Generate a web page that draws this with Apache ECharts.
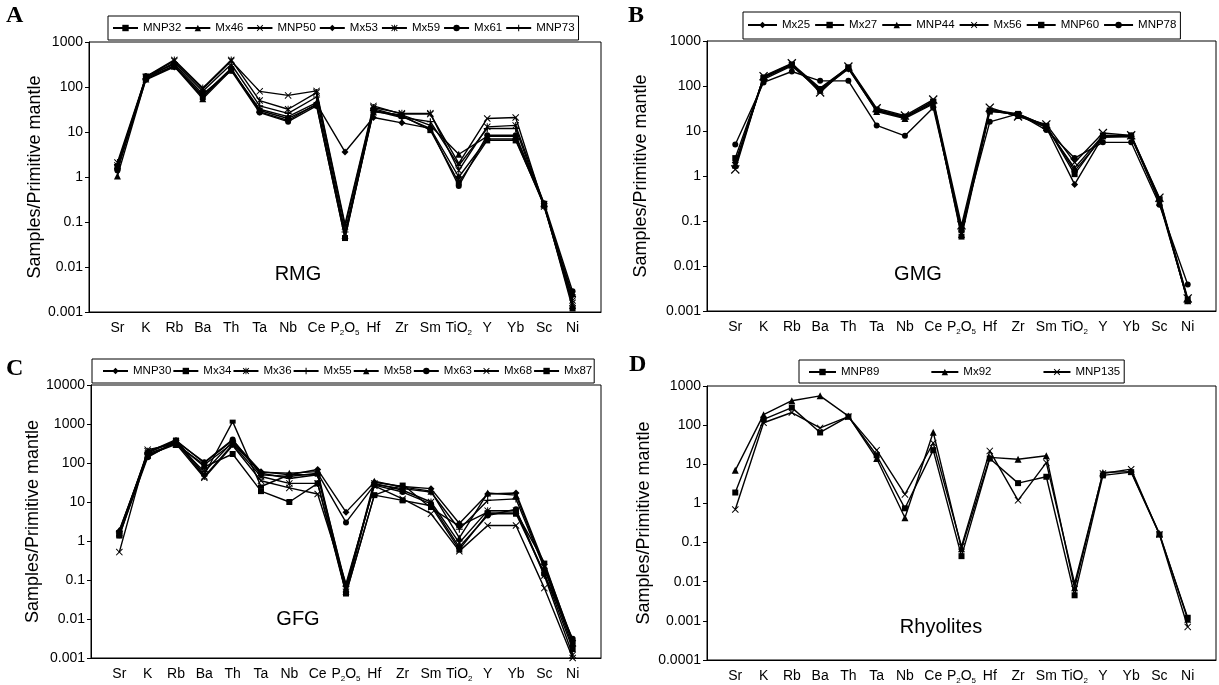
<!DOCTYPE html>
<html>
<head>
<meta charset="UTF-8">
<title>Primitive mantle normalized spider diagrams</title>
<script src="https://cdn.jsdelivr.net/npm/echarts@6/dist/echarts.min.js"></script>
<style>
  html, body { margin: 0; padding: 0; background: #fff; }
  #main { width: 1219px; height: 685px; }
</style>
</head>
<body>
<div id="main"></div>
<script>
// element order on the x axis
var categories = ['Sr', 'K', 'Rb', 'Ba', 'Th', 'Ta', 'Nb', 'Ce', 'P2O5', 'Hf', 'Zr', 'Sm', 'TiO2', 'Y', 'Yb', 'Sc', 'Ni'];

// panel A - RMG
var MNP32 = [1.6, 160, 300, 60, 250, 30, 20, 40, 0.044, 30, 23, 11, 0.75, 6.5, 6.5, 0.25, 0.0012];
var Mx46  = [1.05, 150, 290, 55, 240, 32, 22, 45, 0.05, 28, 24, 14, 3.2, 8, 8, 0.24, 0.0014];
var MNP50 = [1.8, 165, 380, 90, 380, 80, 65, 82, 0.09, 38, 25, 25, 2.0, 20, 21, 0.22, 0.0016];
var Mx53  = [1.5, 145, 280, 65, 260, 28, 18, 42, 3.6, 21, 16, 12, 1.0, 7, 7, 0.23, 0.0024];
var Mx59  = [2.1, 170, 400, 95, 400, 50, 32, 75, 0.08, 35, 26, 26, 1.4, 13, 14, 0.25, 0.0018];
var Mx61  = [1.4, 175, 320, 70, 230, 27, 17, 38, 0.045, 33, 22, 12, 0.63, 8.5, 8.5, 0.26, 0.0029];
var MNP73 = [1.9, 155, 350, 80, 320, 38, 26, 60, 0.06, 30, 21, 17, 1.8, 12, 12, 0.22, 0.0022];

// panel B - GMG
var Mx25  = [2.0, 140, 280, 80, 240, 28, 20, 42, 0.06, 28, 23, 12, 0.65, 7.5, 7.5, 0.28, 0.0017];
var Mx27  = [2.5, 150, 300, 85, 260, 30, 21, 45, 0.045, 27, 24, 13, 1.1, 8, 8, 0.3, 0.0018];
var MNP44 = [1.8, 155, 290, 80, 250, 27, 19, 40, 0.05, 30, 22, 12, 1.5, 8, 7.8, 0.26, 0.0017];
var Mx56  = [1.4, 165, 320, 72, 270, 32, 22, 50, 0.08, 33, 21, 14, 2.0, 9, 8, 0.33, 0.0019];
var MNP60 = [1.6, 160, 310, 90, 260, 29, 20, 47, 0.06, 30, 24, 13, 1.3, 7.2, 7.5, 0.32, 0.0016];
var MNP78 = [5.0, 120, 210, 130, 130, 13.3, 7.8, 33, 0.07, 16, 24, 10.5, 2.5, 5.6, 5.6, 0.23, 0.0039];

// panel C - GFG
var MNP30 = [1.8, 180, 380, 100, 380, 60, 50, 68, 5.5, 32, 25, 22, 2.8, 16, 17, 0.25, 0.0028];
var Mx34  = [1.6, 150, 330, 80, 170, 19, 10, 30, 0.045, 15, 11, 8, 0.6, 5, 5, 0.15, 0.0017];
var Mx36  = [1.5, 200, 350, 45, 300, 45, 30, 30, 0.05, 30, 20, 10, 0.9, 6, 6, 0.13, 0.0012];
var Mx55  = [1.7, 170, 320, 60, 350, 55, 40, 50, 0.07, 28, 22, 18, 2.0, 11, 12, 0.2, 0.002];
var Mx58  = [1.9, 160, 300, 90, 320, 58, 55, 60, 0.06, 34, 24, 19, 1.2, 17, 15, 0.22, 0.0025];
var Mx63  = [1.4, 140, 360, 105, 400, 50, 45, 55, 3.0, 27, 18, 9, 0.7, 4.5, 6.5, 0.14, 0.0031];
var Mx68  = [0.52, 220, 310, 42, 280, 35, 23, 16, 0.08, 26, 12, 5, 0.55, 2.5, 2.5, 0.062, 0.001];
var Mx87  = [1.3, 190, 400, 50, 1150, 25, 50, 50, 0.045, 15, 28, 7, 2.4, 5.5, 5.5, 0.28, 0.0025];

// panel D - Rhyolites
var MNP89  = [1.9, 140, 280, 65, 165, 17, 0.75, 23, 0.045, 14, 3.3, 4.8, 0.0045, 5.2, 6.3, 0.16, 0.0012];
var Mx92   = [7.0, 185, 420, 560, 170, 14, 0.43, 66, 0.07, 15, 13.5, 16.5, 0.007, 6.2, 6.5, 0.17, 0.0011];
var MNP135 = [0.7, 115, 210, 85, 165, 23, 1.7, 35, 0.08, 22, 1.2, 11, 0.009, 5.8, 7.5, 0.16, 0.0007];

var FONT = 'Liberation Sans, Arial, sans-serif';
var X_PATH = 'path://M1,0 L5,4 L9,0 L10,1 L6,5 L10,9 L9,10 L5,6 L1,10 L0,9 L4,5 L0,1 Z';
var PLUS_PATH = 'path://M4.2,0 H5.8 V4.2 H10 V5.8 H5.8 V10 H4.2 V5.8 H0 V4.2 H4.2 Z';
var STAR_PATH = 'path://M1,0 L5,4 L9,0 L10,1 L6,5 L10,9 L9,10 L5,6 L1,10 L0,9 L4,5 L0,1 Z M4.3,0 H5.7 V10 H4.3 Z';

function tickLabel(v) {
  var i = Math.round(v);
  if (i < 1 || i > categories.length) return '';
  var c = categories[i - 1];
  if (c === 'P2O5') return '{n|P}{s|2}{n|O}{s|5}';
  if (c === 'TiO2') return '{n|TiO}{s|2}';
  return '{n|' + c + '}';
}

function logLabel(v) {
  return String(parseFloat(v.toPrecision(6)));
}

function mk(name, values, symbol, size, gi) {
  return {
    name: name,
    type: 'line',
    xAxisIndex: gi,
    yAxisIndex: gi,
    data: values.map(function (v, i) { return [i + 1, v]; }),
    symbol: symbol,
    symbolSize: size,
    showSymbol: true,
    lineStyle: { color: '#000', width: 1.4 },
    itemStyle: { color: '#000' },
    emphasis: { disabled: true },
    animation: false
  };
}

var grids = [
  { left: 89, top: 42, width: 512, height: 270 },
  { left: 707, top: 41, width: 511, height: 270 },
  { left: 91, top: 385, width: 510, height: 273 },
  { left: 707, top: 386, width: 511, height: 275 }
];
var yRange = [[0.001, 1000], [0.001, 1000], [0.001, 10000], [0.0001, 1000]];
var nameGaps = [44, 57, 47, 54];

var option = {
  backgroundColor: '#fff',
  animation: false,
  grid: grids.map(function (g) {
    return Object.assign({ show: true, borderColor: '#000', borderWidth: 1, backgroundColor: 'transparent', containLabel: false }, g);
  }),
  xAxis: grids.map(function (g, i) {
    return {
      type: 'value', gridIndex: i, min: 0, max: 18, interval: 1,
      axisLine: { show: true, lineStyle: { color: '#000', width: 1 } },
      axisTick: { show: false },
      splitLine: { show: false },
      axisLabel: {
        formatter: tickLabel, margin: 7, color: '#000',
        rich: {
          n: { fontSize: 14, fontFamily: FONT, color: '#000', lineHeight: 18 },
          s: { fontSize: 8, fontFamily: FONT, color: '#000', lineHeight: 8, verticalAlign: 'bottom' }
        }
      }
    };
  }),
  yAxis: grids.map(function (g, i) {
    return {
      type: 'log', logBase: 10, gridIndex: i, min: yRange[i][0], max: yRange[i][1],
      name: 'Samples/Primitive mantle', nameLocation: 'middle', nameGap: nameGaps[i], nameRotate: 90,
      nameTextStyle: { fontSize: 18, fontFamily: FONT, color: '#000' },
      axisLine: { show: true, lineStyle: { color: '#000', width: 1 } },
      axisTick: { show: true, inside: false, length: 4, lineStyle: { color: '#000' } },
      minorTick: { show: false },
      splitLine: { show: false },
      axisLabel: { formatter: logLabel, fontSize: 14, fontFamily: FONT, color: '#000', margin: 6 }
    };
  }),
  legend: [
    { left: 108, top: 16, padding: [6, 4, 6, 4], itemGap: 3, itemWidth: 25, itemHeight: 8,
      data: ['MNP32', 'Mx46', 'MNP50', 'Mx53', 'Mx59', 'Mx61', 'MNP73'] },
    { left: 743, top: 12, padding: [7, 4, 8, 4], itemGap: 4, itemWidth: 29, itemHeight: 8,
      data: ['Mx25', 'Mx27', 'MNP44', 'Mx56', 'MNP60', 'MNP78'] },
    { left: 92, top: 359, padding: [6, 2, 6, 10], itemGap: 1, itemWidth: 25, itemHeight: 8,
      data: ['MNP30', 'Mx34', 'Mx36', 'Mx55', 'Mx58', 'Mx63', 'Mx68', 'Mx87'] },
    { left: 799, top: 360, padding: [6, 4, 5, 9], itemGap: 51, itemWidth: 27, itemHeight: 8,
      data: ['MNP89', 'Mx92', 'MNP135'] }
  ].map(function (l) {
    return Object.assign({
      orient: 'horizontal', borderColor: '#000', borderWidth: 1, backgroundColor: '#fff',
      selectedMode: false, itemStyle: { color: '#000' },
      textStyle: { fontSize: 11.5, fontFamily: FONT, color: '#000' }
    }, l);
  }),
  graphic: [
    { type: 'text', left: 6, top: 4, style: { text: 'A', font: 'bold 24px "Liberation Serif", "Times New Roman", serif', fill: '#000' } },
    { type: 'text', left: 628, top: 4, style: { text: 'B', font: 'bold 24px "Liberation Serif", "Times New Roman", serif', fill: '#000' } },
    { type: 'text', left: 6, top: 357, style: { text: 'C', font: 'bold 24px "Liberation Serif", "Times New Roman", serif', fill: '#000' } },
    { type: 'text', left: 629, top: 353, style: { text: 'D', font: 'bold 24px "Liberation Serif", "Times New Roman", serif', fill: '#000' } },
    { type: 'text', x: 298, y: 274, style: { text: 'RMG', font: '20px ' + FONT, fill: '#000', textAlign: 'center', textVerticalAlign: 'middle' } },
    { type: 'text', x: 918, y: 274, style: { text: 'GMG', font: '20px ' + FONT, fill: '#000', textAlign: 'center', textVerticalAlign: 'middle' } },
    { type: 'text', x: 298, y: 619, style: { text: 'GFG', font: '20px ' + FONT, fill: '#000', textAlign: 'center', textVerticalAlign: 'middle' } },
    { type: 'text', x: 941, y: 627, style: { text: 'Rhyolites', font: '20px ' + FONT, fill: '#000', textAlign: 'center', textVerticalAlign: 'middle' } }
  ],
  series: [
    mk('MNP32', MNP32, 'rect', 6, 0),
    mk('Mx46', Mx46, 'triangle', 7, 0),
    mk('MNP50', MNP50, X_PATH, 7, 0),
    mk('Mx53', Mx53, 'diamond', 7, 0),
    mk('Mx59', Mx59, STAR_PATH, 7, 0),
    mk('Mx61', Mx61, 'circle', 6, 0),
    mk('MNP73', MNP73, PLUS_PATH, 7, 0),

    mk('Mx25', Mx25, 'diamond', 7, 1),
    mk('Mx27', Mx27, 'rect', 6, 1),
    mk('MNP44', MNP44, 'triangle', 7, 1),
    mk('Mx56', Mx56, X_PATH, 9, 1),
    mk('MNP60', MNP60, 'rect', [6, 4], 1),
    mk('MNP78', MNP78, 'circle', 6, 1),

    mk('MNP30', MNP30, 'diamond', 7, 2),
    mk('Mx34', Mx34, 'rect', 6, 2),
    mk('Mx36', Mx36, STAR_PATH, 7, 2),
    mk('Mx55', Mx55, PLUS_PATH, 7, 2),
    mk('Mx58', Mx58, 'triangle', 7, 2),
    mk('Mx63', Mx63, 'circle', 6, 2),
    mk('Mx68', Mx68, X_PATH, 7, 2),
    mk('Mx87', Mx87, 'rect', [6, 4], 2),

    mk('MNP89', MNP89, 'rect', 6, 3),
    mk('Mx92', Mx92, 'triangle', 7, 3),
    mk('MNP135', MNP135, X_PATH, 7, 3)
  ]
};

var myChart = echarts.init(document.getElementById('main'));
myChart.setOption(option);
</script>
</body>
</html>
